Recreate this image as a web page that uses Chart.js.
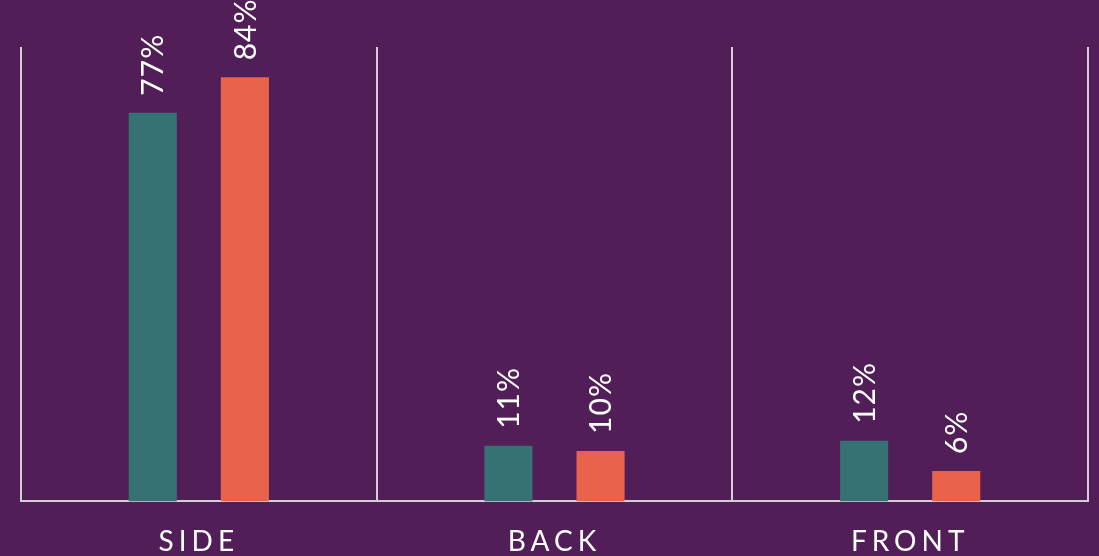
<!DOCTYPE html>
<html>
<head>
<meta charset="utf-8">
<script src="https://cdn.jsdelivr.net/npm/chart.js@4"></script>
<style>
  html, body { margin: 0; padding: 0; background: #521e58; }
  #wrap { width: 1099px; height: 556px; position: relative; }
</style>
</head>
<body>
<div id="wrap"><canvas id="chart"></canvas></div>
<script>
"use strict";

const categories = ['SIDE', 'BACK', 'FRONT'];
const tealValues = [77, 11, 12];
const orangeValues = [84, 10, 6];

const FONT = "'Lato', 'Open Sans', sans-serif";

// rotated value labels above each bar
const barLabels = {
    id: 'barLabels',
    afterDatasetsDraw(chart) {
        const ctx = chart.ctx;
        chart.data.datasets.forEach((ds, i) => {
            chart.getDatasetMeta(i).data.forEach((bar, j) => {
                ctx.save();
                ctx.translate(bar.x, bar.y - 17);
                ctx.rotate(-Math.PI / 2);
                ctx.font = '400 30px ' + FONT;
                ctx.fillStyle = '#ffffff';
                ctx.textAlign = 'left';
                ctx.textBaseline = 'middle';
                ctx.letterSpacing = '1px';
                ctx.fillText(ds.data[j] + '%', 0, 1);
                ctx.restore();
            });
        });
    }
};

// wide letter spacing for the category names only
const spacing = {
    id: 'spacing',
    beforeDraw(chart) { chart.ctx.letterSpacing = '5px'; },
    beforeDatasetsDraw(chart) { chart.ctx.letterSpacing = '0px'; }
};

new Chart(document.getElementById('chart'), {
    type: 'bar',
    data: {
        labels: categories,
        datasets: [
            { label: 'A', data: tealValues, backgroundColor: '#367173' },
            { label: 'B', data: orangeValues, backgroundColor: '#e9634a' }
        ]
    },
    options: {
        responsive: true,
        maintainAspectRatio: false,
        animation: false,
        layout: { padding: { top: 47, left: 21, right: 11, bottom: -27 } },
        categoryPercentage: 0.518,
        barPercentage: 0.522,
        plugins: { legend: { display: false }, tooltip: { enabled: false } },
        scales: {
            x: {
                grid: { color: '#d6cdd8', lineWidth: 2, drawTicks: false, offset: true },
                border: { color: '#d6cdd8', width: 2 },
                ticks: { color: '#ffffff', padding: 24, font: { family: FONT, size: 28, weight: 400 } }
            },
            y: { display: false, min: 0, max: 90 }
        }
    },
    plugins: [barLabels, spacing]
});
</script>
</body>
</html>
